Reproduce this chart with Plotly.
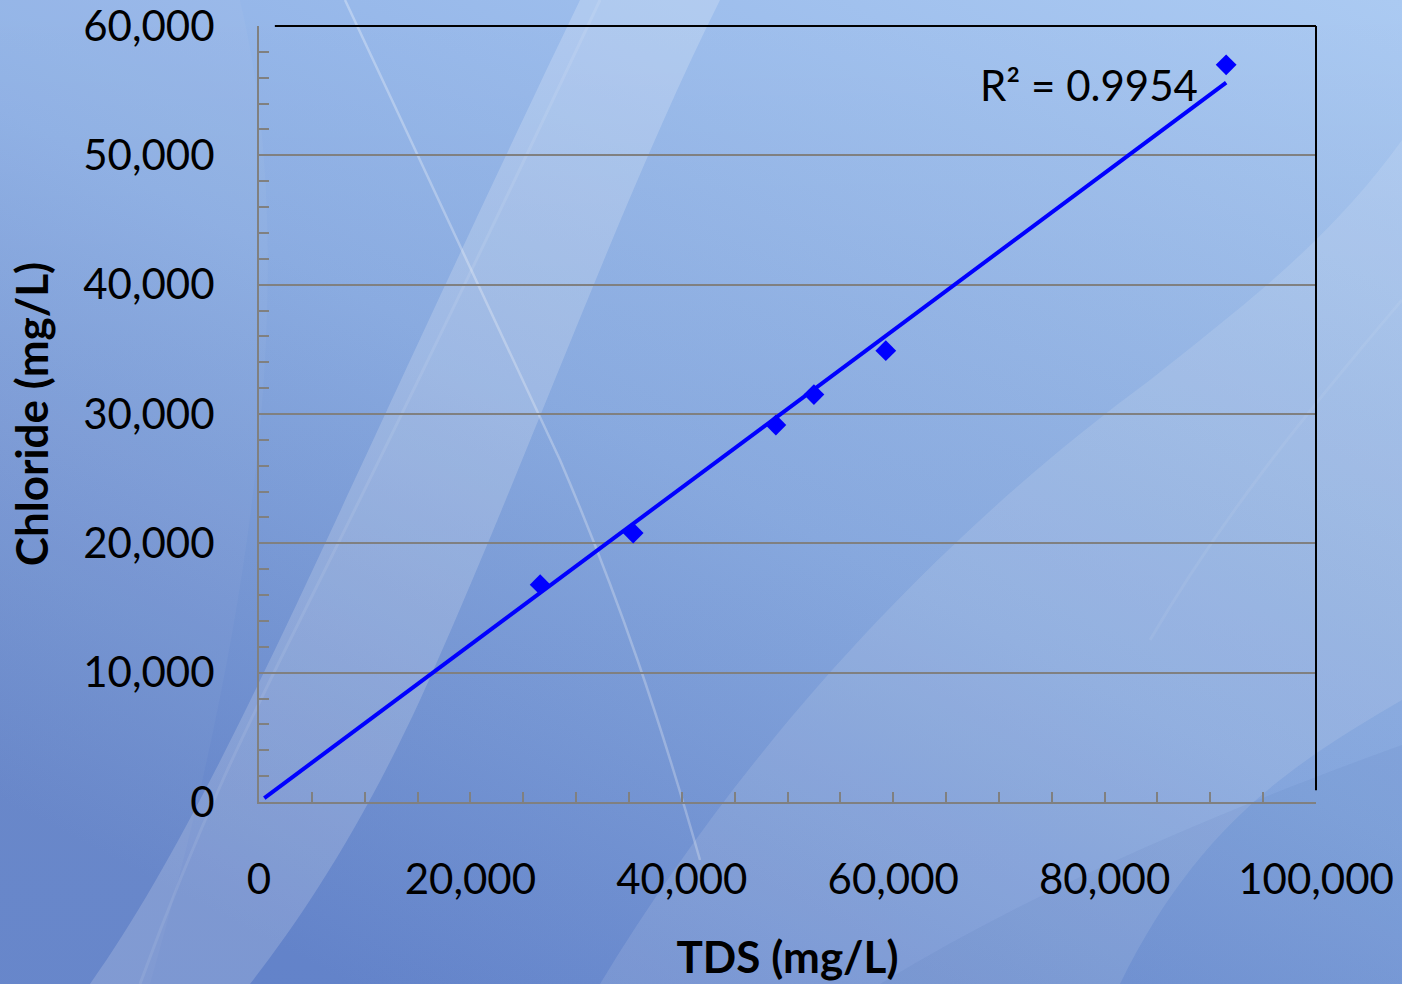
import base64
import numpy as np
import plotly.graph_objects as go

# ---- data ----
tds = [26600, 35400, 48900, 52500, 59300, 91500]          # x, mg/L
chloride = [16800, 20800, 29150, 31500, 34900, 57000]     # y, mg/L
r2_label = "R² = 0.9954"
x_title = "TDS (mg/L)"
y_title = "Chloride (mg/L)"
x_range = [0, 100000]
y_range = [0, 60000]
x_ticks = [0, 20000, 40000, 60000, 80000, 100000]
y_ticks = [0, 10000, 20000, 30000, 40000, 50000, 60000]
trend_start = 500  # trendline drawn from here to max x

# linear trendline through the origin
xa = np.array(tds, float)
ya = np.array(chloride, float)
slope = float((xa * ya).sum() / (xa * xa).sum())
tx = np.array([trend_start, xa.max()])
ty = slope * tx

W, H = 1402, 984
ml, mr, mt, mb = 259, 86, 26, 182
pw, ph = W - ml - mr, H - mt - mb

svg = f'''<svg xmlns="http://www.w3.org/2000/svg" width="{W}" height="{H}" viewBox="0 0 {W} {H}" preserveAspectRatio="none">
<defs>
<linearGradient id="g" x1="1" y1="0" x2="0.25" y2="1">
<stop offset="0" stop-color="#abcaf2"/>
<stop offset="0.55" stop-color="#8eb0e6"/>
<stop offset="1" stop-color="#6b8bd0"/>
</linearGradient>
<linearGradient id="g2" x1="0" y1="0" x2="0" y2="1">
<stop offset="0" stop-color="#000000" stop-opacity="0"/>
<stop offset="1" stop-color="#1a3a90" stop-opacity="0.10"/>
</linearGradient>
</defs>
<rect width="{W}" height="{H}" fill="url(#g)"/>
<path d="M 240 0 C 300 250 260 600 150 984 L 0 984 L 0 0 Z" fill="#ffffff" fill-opacity="0.04"/>
<path d="M 580 0 L 720 0 C 620 200 520 480 420 700 C 360 830 300 920 250 984 L 90 984 C 220 800 330 520 580 0 Z" fill="#ffffff" fill-opacity="0.20"/>
<path d="M 600 0 C 520 170 400 420 300 620 C 250 720 200 820 140 984" stroke="#ffffff" stroke-opacity="0.10" stroke-width="3" fill="none"/>
<path d="M 345 0 C 420 160 500 330 560 460 C 620 600 660 720 700 860" stroke="#ffffff" stroke-opacity="0.30" stroke-width="2.5" fill="none"/>
<path d="M 600 984 C 760 720 960 520 1150 380 C 1250 300 1330 240 1402 140 L 1402 700 C 1300 760 1200 820 1120 984 Z" fill="#ffffff" fill-opacity="0.13"/>
<path d="M 880 984 C 1050 880 1250 800 1402 745 L 1402 984 Z" fill="#1a3a90" fill-opacity="0.05"/>
<path d="M 1402 300 C 1300 420 1220 520 1150 640" stroke="#ffffff" stroke-opacity="0.08" stroke-width="3" fill="none"/>
<rect width="{W}" height="{H}" fill="url(#g2)"/>
</svg>'''
bg_src = "data:image/svg+xml;base64," + base64.b64encode(svg.encode()).decode()

FONT = "Lato, 'Open Sans', sans-serif"
GRAY = "#808080"

fig = go.Figure()
fig.add_trace(go.Scatter(
    x=tx, y=ty, mode="lines",
    line=dict(color="#0000ff", width=4), showlegend=False, hoverinfo="skip",
))
fig.add_trace(go.Scatter(
    x=tds, y=chloride, mode="markers",
    marker=dict(symbol="diamond", size=16, color="#0000ff", line=dict(width=0)),
    showlegend=False,
))

fig.add_annotation(
    x=89000, y=55400, xref="x", yref="y", text=r2_label, showarrow=False,
    xanchor="right", yanchor="middle", font=dict(family=FONT, size=42, color="#000000"),
)

# black top and right borders
fig.add_shape(type="line", xref="paper", yref="paper", x0=0.015, x1=1, y0=1, y1=1,
              line=dict(color="#000000", width=2), layer="above")
fig.add_shape(type="line", xref="paper", yref="paper", x0=1, x1=1, y0=0.015, y1=1,
              line=dict(color="#000000", width=2), layer="above")

fig.add_layout_image(
    source=bg_src, xref="paper", yref="paper",
    x=-ml / pw, y=1 + mt / ph, sizex=W / pw, sizey=H / ph,
    xanchor="left", yanchor="top", sizing="stretch", layer="below",
)

fig.update_layout(
    width=W, height=H,
    margin=dict(l=ml, r=mr, t=mt, b=mb, autoexpand=False),
    paper_bgcolor="#8eb0e6",
    plot_bgcolor="rgba(0,0,0,0)",
    font=dict(family=FONT, size=42, color="#000000"),
)
fig.update_xaxes(
    range=x_range, tickmode="array", tickvals=x_ticks, tickformat=",d",
    showgrid=False, zeroline=False, automargin=False,
    showline=True, linecolor=GRAY, linewidth=2,
    ticks="inside", ticklen=10, tickwidth=2, tickcolor=GRAY,
    minor=dict(dtick=5000, ticks="inside", ticklen=10, tickwidth=2, tickcolor=GRAY, showgrid=False),
    ticklabelstandoff=40, ticklabeloverflow="allow",
    tickfont=dict(family=FONT, size=42),
    title=dict(text=f"<b>{x_title}</b>", font=dict(family=FONT, size=44), standoff=40),
)
fig.update_yaxes(
    range=y_range, tickmode="array", tickvals=y_ticks, tickformat=",d",
    showgrid=True, gridcolor=GRAY, gridwidth=2, zeroline=False, automargin=False,
    showline=True, linecolor=GRAY, linewidth=2,
    ticks="inside", ticklen=10, tickwidth=2, tickcolor=GRAY,
    minor=dict(dtick=2000, ticks="inside", ticklen=10, tickwidth=2, tickcolor=GRAY, showgrid=False),
    ticklabelstandoff=34, ticklabeloverflow="allow",
    tickfont=dict(family=FONT, size=42),
    title=dict(text=f"<b>{y_title}</b>", font=dict(family=FONT, size=44), standoff=21),
)

fig.write_html(
    "out.html",
    config={"displayModeBar": False},
    post_script="document.body.style.margin='0';document.body.style.padding='0';document.body.style.overflow='hidden';",
)
